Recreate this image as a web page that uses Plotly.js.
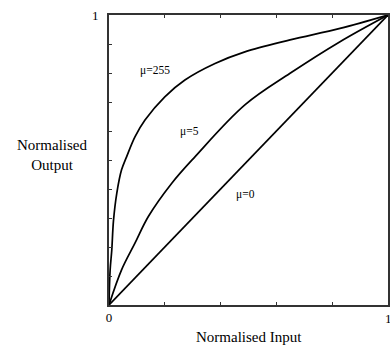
<!DOCTYPE html>
<html>
<head>
<meta charset="utf-8">
<script src="https://cdn.plot.ly/plotly-3.0.1.min.js"></script>
<style>html,body{margin:0;padding:0;background:#fff;overflow:hidden;}#chart{width:390px;height:346px;}</style>
</head>
<body>
<div id="chart"></div>
<script>
// μ = 255 curve
const mu255X = [0, 0.004, 0.01, 0.016, 0.028, 0.045, 0.063, 0.093, 0.129, 0.2, 0.272, 0.38, 0.487, 0.649, 0.828, 1];
const mu255Y = [0, 0.12, 0.19, 0.29, 0.386, 0.466, 0.511, 0.58, 0.638, 0.718, 0.776, 0.833, 0.873, 0.914, 0.954, 1];
// μ = 5 curve
const mu5X = [0, 0.045, 0.093, 0.141, 0.225, 0.308, 0.487, 0.649, 0.828, 1];
const mu5Y = [0, 0.121, 0.213, 0.305, 0.42, 0.511, 0.69, 0.799, 0.908, 1];
// μ = 0 line
const mu0X = [0, 1];
const mu0Y = [0, 1];

const curveLabels = ["μ=255", "μ=5", "μ=0"];
const labelX = [0.165, 0.29, 0.49];
const labelY = [0.81, 0.6, 0.38];

const xTickVals = [0, 0.2, 0.4, 0.6, 0.8, 1];
const xTickText = ["0", "", "", "", "", ""];
const xEndLabel = "1";
const yTickVals = [0, 0.1, 0.2, 0.3, 0.4, 0.5, 0.6, 0.7, 0.8, 0.9, 1];
const yTickText = ["", "", "", "", "", "", "", "", "", "", "1"];

const xTitle = "Normalised Input";
const yTitle = "Normalised<br>Output";

const lineStyle = {color: "#000", width: 1.7, shape: "spline"};
const traces = [
  {x: mu255X, y: mu255Y, mode: "lines", line: lineStyle, hoverinfo: "skip"},
  {x: mu5X, y: mu5Y, mode: "lines", line: lineStyle, hoverinfo: "skip"},
  {x: mu0X, y: mu0Y, mode: "lines", line: {color: "#000", width: 1.7}, hoverinfo: "skip"}
];

const font = {family: "Liberation Serif, Times New Roman, serif", color: "#000"};
const annotations = curveLabels.map((t, i) => ({
  x: labelX[i], y: labelY[i], xref: "x", yref: "y", text: t, showarrow: false,
  font: Object.assign({}, font, {size: 11.5})
}));
annotations.push({x: 1, y: -0.045, xref: "x", yref: "paper", text: xEndLabel, showarrow: false,
  xanchor: "center", yanchor: "middle", font: Object.assign({}, font, {size: 13})});
annotations.push({x: 0.5, y: -0.11, xref: "paper", yref: "paper", text: xTitle, showarrow: false,
  xanchor: "center", yanchor: "middle", font: Object.assign({}, font, {size: 15})});
annotations.push({x: -0.204, y: 0.517, xref: "paper", yref: "paper", text: yTitle, showarrow: false,
  xanchor: "center", yanchor: "middle", font: Object.assign({}, font, {size: 15})});

const layout = {
  width: 390, height: 346,
  margin: {l: 109, r: 2, t: 15, b: 41},
  paper_bgcolor: "#fff", plot_bgcolor: "#fff",
  showlegend: false,
  font: font,
  xaxis: {range: [0, 1], tickvals: xTickVals, ticktext: xTickText, ticks: "inside", ticklen: 3,
    tickcolor: "#333", showgrid: false, zeroline: false, showline: true, linecolor: "#333",
    linewidth: 1.8, mirror: "ticks", tickfont: Object.assign({}, font, {size: 13}), fixedrange: true},
  yaxis: {range: [0, 1], tickvals: yTickVals, ticktext: yTickText, ticks: "inside", ticklen: 3,
    tickcolor: "#333", showgrid: false, zeroline: false, showline: true, linecolor: "#333",
    linewidth: 1.8, mirror: true, tickfont: Object.assign({}, font, {size: 13}), ticklabelstandoff: 6, fixedrange: true},
  annotations: annotations
};

Plotly.newPlot("chart", traces, layout, {displayModeBar: false, staticPlot: true});
</script>
</body>
</html>
